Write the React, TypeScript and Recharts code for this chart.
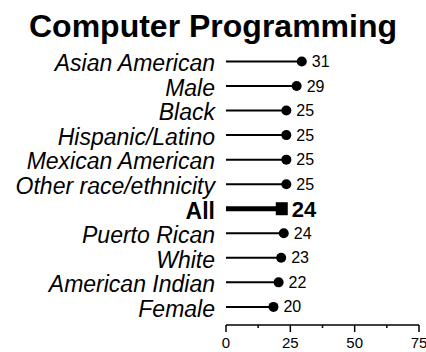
import { Bar, BarChart, XAxis, YAxis } from 'recharts';

const categories = [
  'Asian American',
  'Male',
  'Black',
  'Hispanic/Latino',
  'Mexican American',
  'Other race/ethnicity',
  'All',
  'Puerto Rican',
  'White',
  'American Indian',
  'Female',
];
const values = [31, 29, 25, 25, 25, 25, 24, 24, 23, 22, 20];
const xTicks = [0, 12.5, 25, 37.5, 50, 62.5, 75];
const majorTicks = [0, 25, 50, 75];

const data = categories.map((name, i) => ({ name, value: values[i] }));

const FONT = '"Liberation Sans", Arial, Helvetica, sans-serif';

function Lollipop(props: any) {
  const { x, y, width, height, payload } = props;
  const cy = y + height / 2;
  const end = x + width;
  if (payload.name === 'All') {
    return (
      <g>
        <line x1={x} y1={cy} x2={end - 6} y2={cy} stroke="#000" strokeWidth={5} />
        <rect x={end - 12} y={cy - 6.5} width={12} height={13} fill="#000" />
        <text x={end + 4} y={cy + 1} dominantBaseline="central" fontSize={22} fontWeight="bold" fontFamily={FONT} fill="#000">
          {payload.value}
        </text>
      </g>
    );
  }
  const cx = end - 4;
  return (
    <g>
      <line x1={x} y1={cy} x2={cx} y2={cy} stroke="#000" strokeWidth={2} />
      <circle cx={cx} cy={cy} r={5} fill="#000" />
      <text x={cx + 10} y={cy} dominantBaseline="central" fontSize={16} fontFamily={FONT} fill="#000">
        {payload.value}
      </text>
    </g>
  );
}

function CategoryTick(props: any) {
  const { x, y, payload } = props;
  const isAll = payload.value === 'All';
  return (
    <text
      x={x}
      y={y + 2}
      textAnchor="end"
      dominantBaseline="central"
      fontSize={23}
      fontStyle={isAll ? 'normal' : 'italic'}
      fontWeight={isAll ? 'bold' : 'normal'}
      fontFamily={FONT}
      fill="#000"
    >
      {payload.value}
    </text>
  );
}

function ValueTick(props: any) {
  const { x, y, payload } = props;
  const major = majorTicks.includes(payload.value);
  return (
    <g>
      <line x1={x} y1={y} x2={x} y2={y + (major ? 7 : 3)} stroke="#000" strokeWidth={1.5} />
      {major && (
        <text x={x} y={y + 17} textAnchor="middle" dominantBaseline="central" fontSize={15} fontFamily={FONT} fill="#000">
          {payload.value}
        </text>
      )}
    </g>
  );
}

export default function App() {
  return (
    <div style={{ position: 'absolute', left: 0, top: 0, width: 426, height: 352, background: '#fff', fontFamily: FONT }}>
      <div
        style={{
          position: 'absolute',
          left: 0,
          top: 10,
          width: 426,
          textAlign: 'center',
          fontSize: 32,
          lineHeight: '32px',
          fontWeight: 'bold',
          color: '#000',
        }}
      >
        Computer Programming
      </div>
      <BarChart
        width={426}
        height={352}
        data={data}
        layout="vertical"
        margin={{ top: 49, right: 7, bottom: 0, left: 0 }}
      >
        <XAxis
          type="number"
          domain={[0, 75]}
          ticks={xTicks}
          interval={0}
          height={27}
          axisLine={{ stroke: '#000', strokeWidth: 1.5 }}
          tickLine={false}
          tickSize={0}
          tickMargin={0}
          tick={<ValueTick />}
        />
        <YAxis
          type="category"
          dataKey="name"
          width={226}
          axisLine={false}
          tickLine={false}
          tickSize={0}
          tickMargin={11}
          interval={0}
          padding={{ top: 0, bottom: 6 }}
          tick={<CategoryTick />}
        />
        <Bar dataKey="value" shape={<Lollipop />} isAnimationActive={false} />
      </BarChart>
    </div>
  );
}
